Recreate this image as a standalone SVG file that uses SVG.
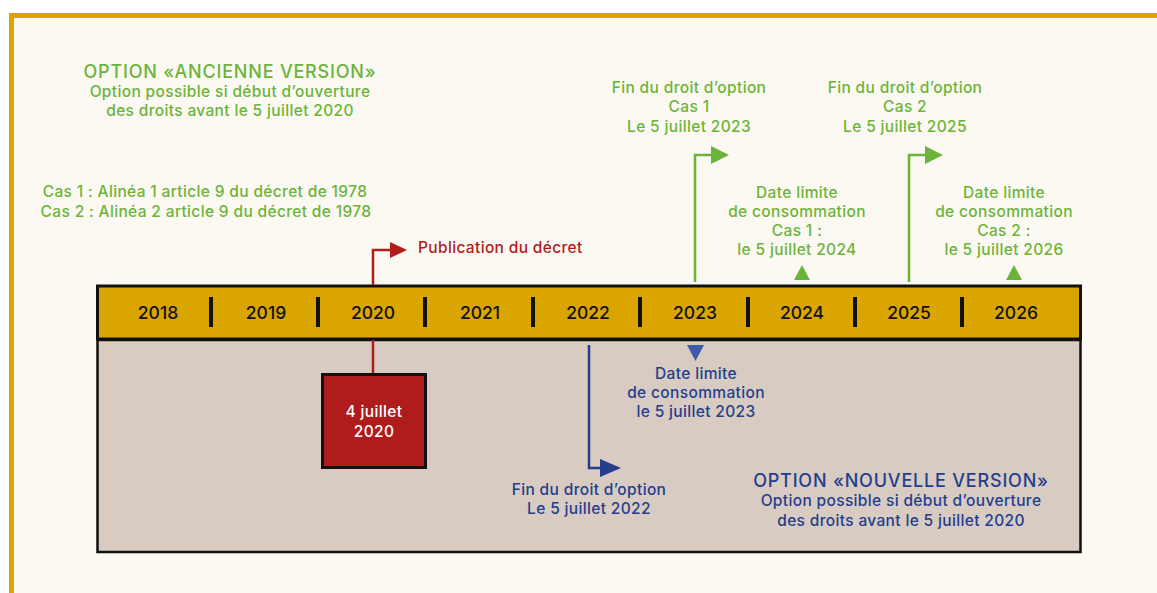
<svg xmlns="http://www.w3.org/2000/svg" width="1157" height="593" viewBox="0 0 1157 593">
<style>
text{font-family:Inter,"Open Sans","Liberation Sans",sans-serif;text-anchor:middle;font-weight:500}
.g{fill:#6BB43A}.b{fill:#243E8E}.r{fill:#B01C1C}
.t{font-size:15.5px;letter-spacing:0.35px}.h{font-size:18px;letter-spacing:0.8px}
.yr{font-size:17.5px;fill:#111}
.div{stroke:#111;stroke-width:4}
</style>
<rect x="0" y="0" width="1157" height="593" fill="#fff"/>
<rect x="11.5" y="15.5" width="1160" height="600" fill="#FCF9F2" stroke="#DBA500" stroke-width="5"/>
<g id="timeline">
<rect x="97.5" y="340" width="983" height="212" fill="#D8CBC1" stroke="#111" stroke-width="2.5"/>
<rect x="97.5" y="286" width="983" height="53" fill="#DBA500" stroke="#111" stroke-width="3"/>
<g class="div">
<line x1="211" y1="297" x2="211" y2="327"/><line x1="318" y1="297" x2="318" y2="327"/>
<line x1="425" y1="297" x2="425" y2="327"/><line x1="533" y1="297" x2="533" y2="327"/>
<line x1="640" y1="297" x2="640" y2="327"/><line x1="748" y1="297" x2="748" y2="327"/>
<line x1="855" y1="297" x2="855" y2="327"/><line x1="962" y1="297" x2="962" y2="327"/>
</g>
<text class="yr" x="158" y="319">2018</text><text class="yr" x="266" y="319">2019</text>
<text class="yr" x="373" y="319">2020</text><text class="yr" x="480" y="319">2021</text>
<text class="yr" x="588" y="319">2022</text><text class="yr" x="695" y="319">2023</text>
<text class="yr" x="802" y="319">2024</text><text class="yr" x="909" y="319">2025</text>
<text class="yr" x="1016" y="319">2026</text>
</g>
<g id="connectors" fill="none" stroke-width="2.5">
<polyline points="373,285 373,250 392,250" stroke="#B01C1C"/>
<polygon points="390,242 407,250 390,258" fill="#B01C1C" stroke="none"/>
<line x1="373" y1="340" x2="373" y2="373" stroke="#B01C1C"/>
<polyline points="695,282 695,155 713,155" stroke="#6BB43A"/>
<polygon points="711,146 729,155 711,164" fill="#6BB43A" stroke="none"/>
<polyline points="909,282 909,155 927,155" stroke="#6BB43A"/>
<polygon points="925,146 943,155 925,164" fill="#6BB43A" stroke="none"/>
<polygon points="802,265 810,280 794,280" fill="#6BB43A" stroke="none"/>
<polygon points="1014,265 1022,280 1006,280" fill="#6BB43A" stroke="none"/>
<polyline points="589,345 589,468 602,468" stroke="#243E8E"/>
<polygon points="600,459 621,468 600,477" fill="#243E8E" stroke="none"/>
<polygon points="687,345 704,345 695.5,361" fill="#3F5AA8" stroke="none"/>
</g>
<g id="box-2020">
<rect x="322.5" y="374.5" width="103" height="93" fill="#B01C1C" stroke="#111" stroke-width="3"/>
<text class="t" x="374" y="417" fill="#fff">4 juillet</text>
<text class="t" x="374" y="437" fill="#fff">2020</text>
</g>
<g id="publication"><text class="t r" x="418" y="253" style="text-anchor:start">Publication du décret</text></g>
<g id="ancienne">
<text class="h g" x="230" y="77.5">OPTION «ANCIENNE VERSION»</text>
<text class="t g" x="230" y="97">Option possible si début d’ouverture</text>
<text class="t g" x="230" y="116">des droits avant le 5 juillet 2020</text>
</g>
<g id="cas">
<text class="t g" x="205" y="197">Cas 1 : Alinéa 1 article 9 du décret de 1978</text>
<text class="t g" x="206" y="217">Cas 2 : Alinéa 2 article 9 du décret de 1978</text>
</g>
<g id="fin-cas1">
<text class="t g" x="689" y="93">Fin du droit d’option</text>
<text class="t g" x="689" y="112">Cas 1</text>
<text class="t g" x="689" y="132">Le 5 juillet 2023</text>
</g>
<g id="fin-cas2">
<text class="t g" x="905" y="93">Fin du droit d’option</text>
<text class="t g" x="905" y="112">Cas 2</text>
<text class="t g" x="905" y="132">Le 5 juillet 2025</text>
</g>
<g id="dlc-cas1">
<text class="t g" x="797" y="198">Date limite</text>
<text class="t g" x="797" y="217">de consommation</text>
<text class="t g" x="797" y="236">Cas 1 :</text>
<text class="t g" x="797" y="255">le 5 juillet 2024</text>
</g>
<g id="dlc-cas2">
<text class="t g" x="1004" y="198">Date limite</text>
<text class="t g" x="1004" y="217">de consommation</text>
<text class="t g" x="1004" y="236">Cas 2 :</text>
<text class="t g" x="1004" y="255">le 5 juillet 2026</text>
</g>
<g id="fin-2022">
<text class="t b" x="589" y="495">Fin du droit d’option</text>
<text class="t b" x="589" y="514">Le 5 juillet 2022</text>
</g>
<g id="dlc-2023">
<text class="t b" x="696" y="379">Date limite</text>
<text class="t b" x="696" y="398">de consommation</text>
<text class="t b" x="696" y="417">le 5 juillet 2023</text>
</g>
<g id="nouvelle">
<text class="h b" x="901" y="486.5">OPTION «NOUVELLE VERSION»</text>
<text class="t b" x="901" y="506">Option possible si début d’ouverture</text>
<text class="t b" x="901" y="526">des droits avant le 5 juillet 2020</text>
</g>
</svg>
